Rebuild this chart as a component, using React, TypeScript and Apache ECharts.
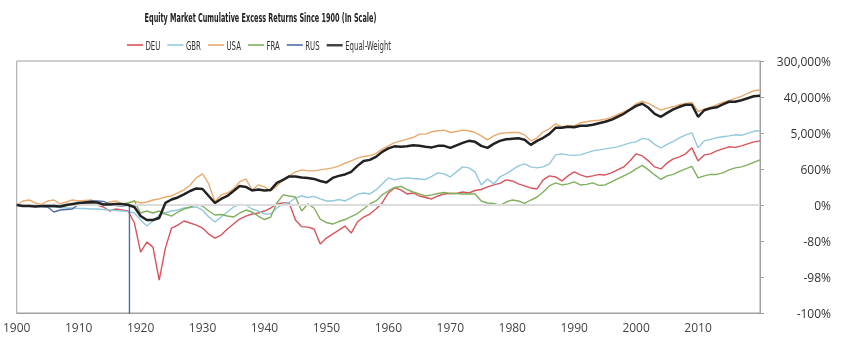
import React, { useEffect, useRef } from 'react';
import * as echarts from 'echarts';

// Cumulative excess-return wealth index (1 = 0%), one value per year from START_YEAR.
const START_YEAR = 1900;
const END_YEAR = 2020;

const DEU = [
  1, 0.973, 1, 0.946, 0.946, 1, 1.03, 0.946, 0.973, 1.06,
  1.09, 1.09, 1.06, 1, 0.895, 0.716, 0.8, 0.757, 0.716, 0.367,
  0.0728, 0.127, 0.0962, 0.0153, 0.091, 0.278, 0.328, 0.41, 0.367, 0.328,
  0.278, 0.199, 0.159, 0.188, 0.263, 0.347, 0.458, 0.541, 0.606, 0.64,
  0.716, 0.846, 1.06, 1.12, 1.12, 0.433, 0.3, 0.293, 0.263, 0.114,
  0.159, 0.199, 0.248, 0.31, 0.21, 0.388, 0.512, 0.606, 0.8, 1.12,
  1.95, 2.58, 2.31, 1.85, 1.95, 1.65, 1.52, 1.4, 1.65, 1.85,
  1.9, 1.9, 2.06, 1.95, 2.24, 2.37, 2.73, 3.05, 3.32, 4.03,
  3.81, 3.23, 2.89, 2.58, 2.44, 4.03, 5.04, 4.76, 3.81, 5.04,
  6.3, 5.32, 4.76, 5.04, 5.47, 5.32, 5.95, 7.04, 8.32, 11.6,
  17.2, 15.3, 11.6, 8.32, 7.44, 10.4, 13.0, 14.5, 17.2, 24.0,
  11.6, 16.2, 17.2, 20.3, 22.7, 25.4, 24.6, 26.8, 29.9, 33.5,
  35.4,
];

const GBR = [
  1, 0.973, 0.946, 0.946, 0.92, 0.895, 0.895, 0.87, 0.846, 0.846,
  0.823, 0.823, 0.8, 0.8, 0.778, 0.757, 0.736, 0.716, 0.696, 0.64,
  0.433, 0.31, 0.41, 0.573, 0.65, 0.716, 0.757, 0.846, 0.87, 0.895,
  0.757, 0.512, 0.388, 0.512, 0.677, 0.895, 1.03, 1, 0.8, 0.716,
  0.606, 0.606, 0.846, 1.06, 1.15, 1.48, 1.65, 1.52, 1.61, 1.4,
  1.25, 1.25, 1.36, 1.25, 1.48, 1.8, 1.95, 1.85, 2.31, 3.23,
  4.51, 4.03, 4.38, 4.51, 4.38, 4.26, 4.14, 4.9, 5.95, 5.63,
  4.76, 6.3, 8.32, 7.87, 6.3, 3.05, 4.26, 3.23, 4.76, 5.63,
  7.04, 8.8, 9.83, 8.32, 7.87, 8.32, 9.83, 16.2, 17.2, 16.2,
  15.8, 16.2, 18.1, 20.3, 21.4, 22.7, 24.0, 25.4, 28.3, 31.7,
  33.5, 40.7, 38.5, 29.1, 24.0, 29.1, 34.4, 41.9, 49.5, 55.3,
  24.0, 35.4, 38.5, 41.9, 44.3, 46.8, 49.5, 48.2, 53.8, 60.2,
  61.9,
];

const USA = [
  1, 1.25, 1.32, 1.12, 1.03, 1.25, 1.32, 1.06, 1.18, 1.32,
  1.25, 1.29, 1.32, 1.18, 1.03, 1.18, 1.25, 1.06, 1.12, 1.25,
  1.12, 1.18, 1.32, 1.4, 1.56, 1.65, 1.95, 2.31, 3.05, 4.51,
  5.63, 3.23, 1.18, 1.75, 1.95, 2.44, 3.61, 4.26, 2.31, 3.05,
  2.73, 2.18, 2.89, 4.03, 5.04, 6.3, 7.04, 6.66, 6.66, 7.04,
  7.44, 7.87, 8.65, 10.2, 11.6, 13.5, 14.8, 15.6, 17.4, 22.3,
  26.8, 32.2, 35.4, 38.9, 42.6, 51.5, 51.5, 58.5, 61.9, 64.3,
  56.3, 59.5, 64.3, 61.9, 56.3, 46.8, 37.5, 46.8, 53.2, 55.3,
  56.3, 56.3, 49.5, 35.4, 41.9, 58.5, 69.1, 91.3, 77.3, 81.7,
  81.7, 96.5, 102, 108, 111, 118, 131, 151, 178, 210,
  278, 316, 283, 235, 196, 219, 235, 263, 283, 299,
  181, 207, 226, 263, 299, 329, 374, 418, 495, 574,
  607,
];

const FRA = [
  1, 0.946, 0.946, 0.946, 0.946, 0.973, 0.946, 0.946, 0.973, 1,
  1.03, 1.03, 1.06, 1.03, 1, 1, 1.03, 1.06, 1.12, 1.25,
  0.64, 0.716, 0.64, 0.716, 0.606, 0.541, 0.677, 0.8, 0.895, 1.03,
  0.946, 0.716, 0.573, 0.589, 0.541, 0.512, 0.64, 0.757, 0.677, 0.541,
  0.446, 0.512, 1.12, 1.75, 1.65, 1.56, 0.716, 1.06, 0.846, 0.458,
  0.377, 0.347, 0.399, 0.446, 0.527, 0.623, 0.8, 1.06, 1.25, 1.75,
  2.18, 2.65, 2.8, 2.37, 2.06, 1.85, 1.65, 1.75, 1.9, 2.01,
  1.9, 1.9, 1.85, 1.85, 1.85, 1.25, 1.12, 1.09, 0.973, 1.18,
  1.32, 1.25, 1.09, 1.32, 1.56, 2.06, 2.89, 3.41, 3.05, 3.23,
  3.61, 3.05, 3.14, 3.41, 2.97, 3.05, 3.61, 4.26, 5.04, 5.95,
  7.44, 9.05, 7.04, 5.32, 4.14, 5.04, 5.47, 6.47, 7.44, 8.55,
  4.51, 5.04, 5.47, 5.47, 5.95, 7.04, 7.87, 8.32, 9.3, 10.7,
  12.3,
];

// Russia: 1900-1918, then the 1918 collapse to -100%
const RUS = [
  1, 0.946, 0.946, 0.92, 0.92, 0.895, 0.677, 0.757, 0.778, 0.8,
  1.06, 1.18, 1.25, 1.25, 1.22, 1.06, 0.973, 0.946, 1,
];
const RUS_COLLAPSE_YEAR = 1918.2;
const RUS_COLLAPSE_VALUE = 0.001;

const EQUAL_WEIGHT = [
  1, 0.946, 0.946, 0.92, 0.946, 0.946, 0.946, 0.92, 1, 1.06,
  1.12, 1.15, 1.18, 1.15, 1.03, 1.03, 1.06, 1.06, 1, 0.895,
  0.541, 0.433, 0.433, 0.485, 1.12, 1.36, 1.52, 1.8, 2.18, 2.51,
  2.44, 1.65, 1.12, 1.4, 1.65, 2.18, 2.89, 2.73, 2.24, 2.37,
  2.24, 2.31, 3.41, 4.03, 4.9, 4.9, 4.63, 4.51, 4.26, 3.81,
  3.51, 4.51, 5.04, 5.47, 6.3, 8.8, 11.6, 12.3, 14.5, 19.2,
  23.3, 26.1, 25.4, 26.1, 27.6, 26.8, 25.4, 24.6, 26.8, 26.8,
  24.0, 27.6, 31.7, 35.4, 33.5, 26.8, 24.0, 29.9, 35.4, 38.5,
  39.6, 40.7, 37.5, 28.3, 35.4, 41.9, 52.3, 73.1, 73.1, 77.3,
  75.2, 81.7, 81.7, 86.4, 93.9, 102, 114, 135, 159, 199,
  248, 278, 222, 159, 135, 168, 204, 235, 263, 263,
  135, 194, 216, 228, 270, 311, 311, 338, 378, 422,
  435,
];

// Axis: log scale; each tick is one step of LOG_BASE in wealth
const LOG_BASE = 7.4;
const Y_TICK_LABELS = ['-100%', '-98%', '-80%', '0%', '600%', '5,000%', '40,000%', '300,000%'];
const Y_MIN_POWER = -3;
const Y_MAX_POWER = 4;

const SERIES_NAMES = ['DEU', 'GBR', 'USA', 'FRA', 'RUS', 'Equal-Weight'];
const COLORS = ['#d9545a', '#93c8dc', '#e9aa6e', '#80b05e', '#4f6ea8', '#222222'];

const TITLE = 'Equity Market Cumulative Excess Returns Since 1900 (In Scale)';

const toPairs = (vals: number[]) => vals.map((v, i) => [START_YEAR + i, v]);

const COND_FAMILY = '"DejaVu Sans Condensed", "Liberation Sans Narrow", "DejaVu Sans", sans-serif';

function measure(text: string, font: string): number {
  const ctx = document.createElement('canvas').getContext('2d');
  if (!ctx) return text.length * 6;
  ctx.font = font;
  return ctx.measureText(text).width;
}

export default function App() {
  const ref = useRef<HTMLDivElement>(null);
  useEffect(() => {
    if (!ref.current) return;
    const chart = echarts.init(ref.current, undefined, { renderer: 'svg' });
    const rusData = toPairs(RUS).concat([
      [RUS_COLLAPSE_YEAR, RUS[RUS.length - 1]],
      [RUS_COLLAPSE_YEAR, RUS_COLLAPSE_VALUE],
    ]);
    const seriesData = [toPairs(DEU), toPairs(GBR), toPairs(USA), toPairs(FRA), rusData, toPairs(EQUAL_WEIGHT)];

    // Title: narrow typeface emulated by horizontal scaling
    const titleFont = 'bold 13px ' + COND_FAMILY;
    const titleScale = 232 / measure(TITLE, titleFont);

    // Legend drawn as graphic items (line swatch + condensed label)
    const legendFont = '12.5px ' + COND_FAMILY;
    const legendScale = 46 / measure('Equal-Weight', legendFont);
    const legendItems: any[] = [];
    let cursor = 127;
    SERIES_NAMES.forEach((name, i) => {
      legendItems.push({
        type: 'rect',
        shape: { x: cursor, y: 44, width: 16, height: name === 'Equal-Weight' ? 2.5 : 2 },
        style: { fill: COLORS[i], opacity: name === 'Equal-Weight' ? 0.85 : 0.8 },
      });
      const tx = cursor + 18.5;
      legendItems.push({
        type: 'text',
        x: tx,
        y: 45.5,
        scaleX: legendScale,
        style: {
          text: name,
          x: 0,
          y: 0,
          textAlign: 'left',
          textVerticalAlign: 'middle',
          font: legendFont,
          fill: '#333',
        },
      });
      cursor = tx + measure(name, legendFont) * legendScale + 7;
    });

    chart.setOption({
      animation: false,
      color: COLORS,
      graphic: [
        {
          type: 'text',
          x: 260.5,
          y: 17,
          scaleX: titleScale,
          style: {
            text: TITLE,
            x: 0,
            y: 0,
            textAlign: 'center',
            textVerticalAlign: 'middle',
            font: titleFont,
            fill: '#222',
          },
        },
        ...legendItems,
      ],
      grid: {
        left: 16,
        right: 83,
        top: 61,
        bottom: 42,
        show: true,
        borderColor: '#a0a0a0',
        borderWidth: 1,
        containLabel: false,
      },
      xAxis: {
        type: 'value',
        min: START_YEAR,
        max: END_YEAR,
        interval: 10,
        axisLine: { show: true, lineStyle: { color: '#a0a0a0' } },
        axisTick: { show: false },
        splitLine: { show: false },
        axisLabel: {
          margin: 8,
          color: '#444',
          fontFamily: '"Open Sans", sans-serif',
          fontSize: 12,
          formatter: (v: number) => (v >= END_YEAR ? '' : String(v)),
        },
      },
      yAxis: {
        type: 'log',
        logBase: LOG_BASE,
        position: 'right',
        min: Math.pow(LOG_BASE, Y_MIN_POWER),
        max: Math.pow(LOG_BASE, Y_MAX_POWER),
        splitNumber: 7,
        axisLine: { show: true, lineStyle: { color: '#a0a0a0' } },
        axisTick: { show: true, length: 4, lineStyle: { color: '#a0a0a0' } },
        splitLine: { show: false },
        axisLabel: {
          align: 'right',
          margin: 71,
          color: '#333',
          fontFamily: '"Open Sans", sans-serif',
          fontSize: 12,
          formatter: (v: number) => {
            const k = Math.round(Math.log(v) / Math.log(LOG_BASE));
            return Y_TICK_LABELS[k - Y_MIN_POWER] ?? '';
          },
        },
      },
      series: [
        {
          name: 'zero',
          type: 'line',
          data: [],
          silent: true,
          z: 1,
          markLine: {
            silent: true,
            symbol: ['none', 'none'],
            label: { show: false },
            lineStyle: { color: '#dcdcdc', width: 2, type: 'solid' },
            data: [{ yAxis: 1 }],
          },
        },
        ...SERIES_NAMES.map((name, i) => ({
          name,
          type: 'line',
          data: seriesData[i],
          showSymbol: false,
          symbol: 'none',
          z: name === 'Equal-Weight' ? 5 : 3,
          lineStyle: { width: name === 'Equal-Weight' ? 2.5 : 1.4, color: COLORS[i] },
          itemStyle: { color: COLORS[i] },
          clip: true,
        })),
      ],
    });
    return () => chart.dispose();
  }, []);
  return <div ref={ref} style={{ position: 'fixed', left: 0, top: 0, width: 843, height: 355 }} />;
}
